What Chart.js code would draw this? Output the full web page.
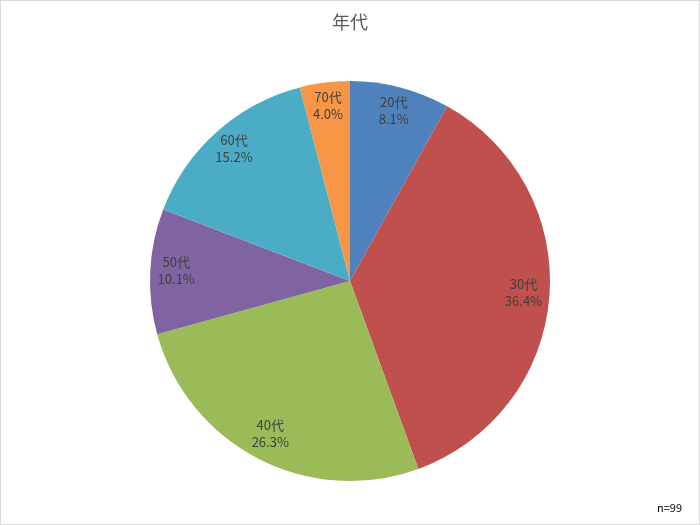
<!DOCTYPE html>
<html>
<head>
<meta charset="utf-8">
<script src="https://cdn.jsdelivr.net/npm/chart.js@4"></script>
<style>
  html, body { margin: 0; padding: 0; background: #fff; }
  .wrap { width: 698px; height: 523px; border: 1px solid #d9d9d9; position: relative; }
</style>
</head>
<body>
<div class="wrap"><canvas id="pie" width="698" height="523"></canvas></div>
<script>
const chartTitle = '年代';
const labels     = ['20代', '30代', '40代', '50代', '60代', '70代'];
const counts     = [8, 36, 26, 10, 15, 4];
const colors     = ['#4f81bd', '#c0504d', '#9bbb59', '#8064a2', '#4bacc6', '#f79646'];
const footNote   = 'n=99';

const total = counts.reduce((a, b) => a + b, 0);
const FONT = '"Noto Sans CJK JP", "Noto Sans", sans-serif';

const decor = {
  id: 'decor',
  afterDraw(chart) {
    const ctx = chart.ctx;
    const meta = chart.getDatasetMeta(0);
    ctx.save();
    // title
    ctx.fillStyle = '#595959';
    ctx.font = '18px ' + FONT;
    ctx.textAlign = 'center';
    ctx.textBaseline = 'middle';
    ctx.fillText(chartTitle, 349, 21);
    // slice labels
    ctx.font = '13px ' + FONT;
    ctx.fillStyle = '#404040';
    meta.data.forEach((arc, i) => {
      const mid = (arc.startAngle + arc.endAngle) / 2;
      const r = arc.outerRadius * 0.87;
      const x = arc.x + Math.cos(mid) * r;
      const y = arc.y + Math.sin(mid) * r;
      const pct = (counts[i] / total * 100).toFixed(1) + '%';
      ctx.fillText(labels[i], x, y - 11);
      ctx.fillText(pct, x, y + 6);
    });
    // footnote
    ctx.font = '11px ' + FONT;
    ctx.fillStyle = '#000';
    ctx.textAlign = 'right';
    ctx.fillText(footNote, 681, 507);
    ctx.restore();
  }
};

new Chart(document.getElementById('pie'), {
  type: 'pie',
  data: {
    labels: labels,
    datasets: [{
      data: counts,
      backgroundColor: colors,
      borderWidth: 0
    }]
  },
  options: {
    responsive: false,
    animation: false,
    layout: { padding: { top: 80, bottom: 43, left: 0, right: 0 } },
    plugins: {
      legend: { display: false },
      tooltip: { enabled: false }
    }
  },
  plugins: [decor]
});
</script>
</body>
</html>
